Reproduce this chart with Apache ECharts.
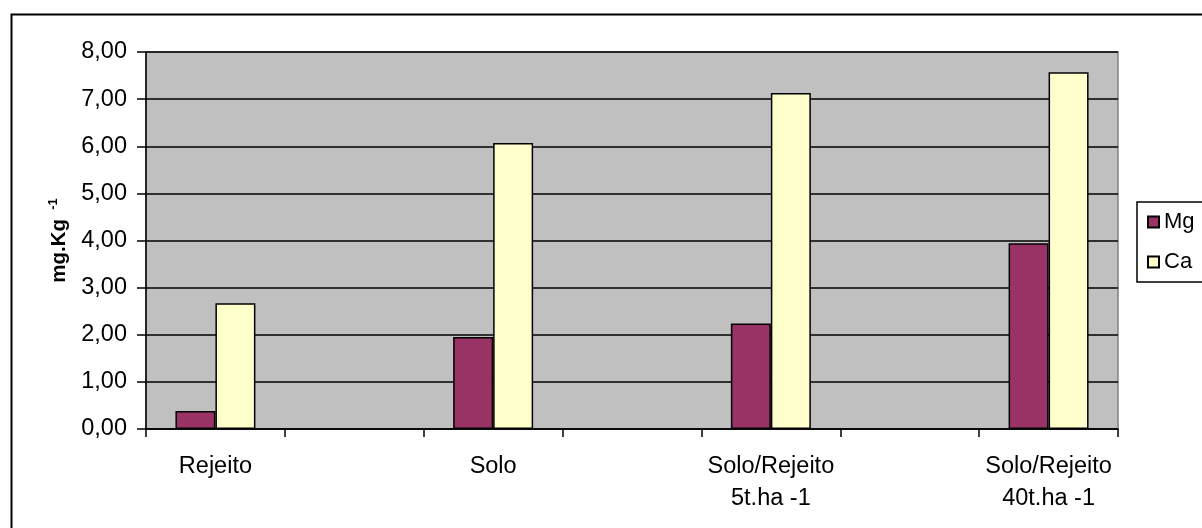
<!DOCTYPE html>
<html>
<head>
<meta charset="utf-8">
<title>Mg e Ca</title>
<script src="https://cdn.jsdelivr.net/npm/echarts@6/dist/echarts.min.js"></script>
<style>
  html, body { margin: 0; padding: 0; background: #ffffff; }
  #chart { width: 1202px; height: 528px; }
</style>
</head>
<body>
<div id="chart"></div>
<script>
// Treatments, with blank spacer categories between them
const categories = ['Rejeito', '', 'Solo', '', 'Solo/Rejeito\n5t.ha -1', '', 'Solo/Rejeito\n40t.ha -1'];
// Concentrations (mg.Kg-1)
const mgValues = [0.38, null, 1.95, null, 2.24, null, 3.94];
const caValues = [2.67, null, 6.07, null, 7.13, null, 7.57];
const seriesNames = ['Mg', 'Ca'];
const yTicks = { min: 0, max: 8, step: 1 };

const FONT = '"Liberation Sans", Arial, sans-serif';
const chart = echarts.init(document.getElementById('chart'), null, { renderer: 'canvas' });

chart.setOption({
  animation: false,
  backgroundColor: '#ffffff',
  textStyle: { fontFamily: FONT, color: '#000000' },
  graphic: [
    {
      type: 'rect',
      left: 9, top: 12,
      shape: { width: 1260, height: 600 },
      style: { fill: 'none', stroke: '#000000', lineWidth: 2 },
      silent: true, z: -10
    }
  ],
  grid: {
    left: 146, top: 52, right: 84, bottom: 99,
    show: true,
    backgroundColor: '#c0c0c0',
    borderColor: '#808080',
    borderWidth: 1.5
  },
  legend: {
    orient: 'vertical',
    left: 1137, top: 202,
    data: seriesNames,
    icon: 'rect',
    itemWidth: 11, itemHeight: 11,
    itemGap: 16,
    padding: [8, 60, 8, 10],
    borderColor: '#000000',
    borderWidth: 1.5,
    backgroundColor: '#ffffff',
    textStyle: { fontFamily: FONT, fontSize: 22, color: '#000000', lineHeight: 24 }
  },
  xAxis: {
    type: 'category',
    data: categories,
    boundaryGap: true,
    axisLine: { lineStyle: { color: '#000000', width: 1.5 } },
    axisTick: { show: true, length: 8, interval: 0, lineStyle: { color: '#000000', width: 1.5 } },
    axisLabel: {
      interval: 0, margin: 22,
      fontFamily: FONT, fontSize: 23.5, color: '#000000', lineHeight: 32
    },
    splitLine: { show: false }
  },
  yAxis: {
    type: 'value',
    min: yTicks.min, max: yTicks.max, interval: yTicks.step,
    name: '{t|mg.Kg }{s| -1}',
    nameLocation: 'middle',
    nameRotate: 90,
    nameGap: 76,
    nameTextStyle: {
      rich: {
        t: { fontFamily: FONT, fontSize: 20.5, fontWeight: 'bold', color: '#000000', verticalAlign: 'bottom' },
        s: { fontFamily: FONT, fontSize: 13, fontWeight: 'bold', color: '#000000', verticalAlign: 'bottom', padding: [0, 0, 10, 0] }
      }
    },
    axisLine: { show: true, lineStyle: { color: '#000000', width: 1.5 } },
    axisTick: { show: true, length: 9, lineStyle: { color: '#000000', width: 1.5 } },
    axisLabel: {
      margin: 19,
      fontFamily: FONT, fontSize: 23.5, color: '#000000',
      formatter: v => v.toFixed(2).replace('.', ',')
    },
    splitLine: { show: true, lineStyle: { color: '#000000', width: 1.5 } }
  },
  series: [
    {
      name: seriesNames[0], type: 'bar', data: mgValues,
      barWidth: '28.8%', barGap: '0%',
      itemStyle: { color: '#993366', borderColor: '#000000', borderWidth: 1.5 }
    },
    {
      name: seriesNames[1], type: 'bar', data: caValues,
      barWidth: '28.8%', barGap: '0%',
      itemStyle: { color: '#ffffcc', borderColor: '#000000', borderWidth: 1.5 }
    }
  ]
});
</script>
</body>
</html>
